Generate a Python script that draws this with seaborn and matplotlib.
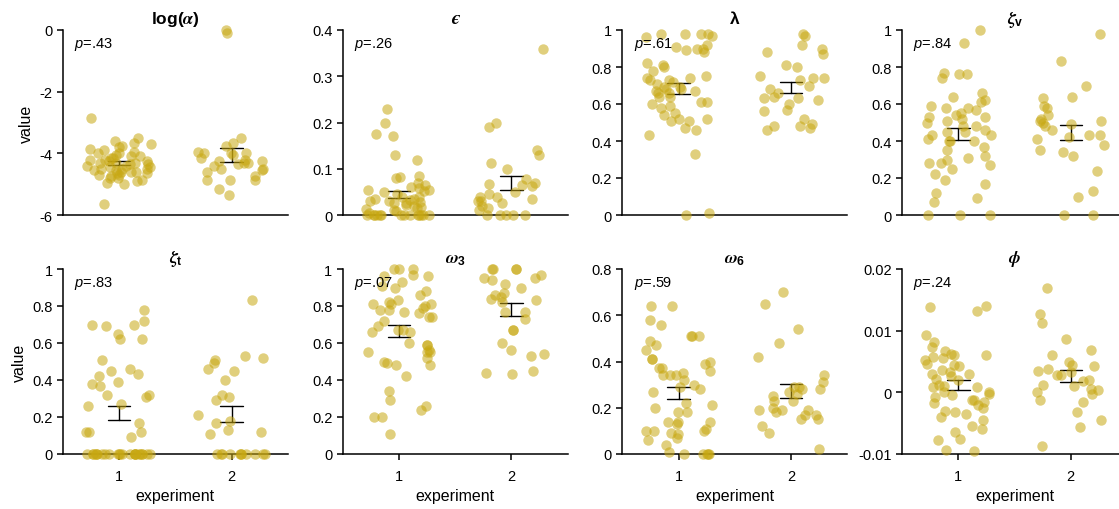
import numpy as np
import pandas as pd
import matplotlib
matplotlib.use("Agg")
import matplotlib.pyplot as plt
from matplotlib.ticker import FuncFormatter
import seaborn as sns

# ---------------------------------------------------------------- data
experiments = ["1", "2"]

# Panel titles; the lunate epsilon is set as plain text in STIX bold italic
titles = [
    r"$\mathbf{log(}\boldsymbol{\alpha}\mathbf{)}$",
    "\u03f5",
    r"$\boldsymbol{\lambda}$",
    r"$\boldsymbol{\zeta}_\mathbf{v}$",
    r"$\boldsymbol{\zeta}_\mathbf{t}$",
    r"$\boldsymbol{\omega}_\mathbf{3}$",
    r"$\boldsymbol{\omega}_\mathbf{6}$",
    r"$\boldsymbol{\phi}$",
]

p_values = [".43", ".26", ".61", ".84", ".83", ".07", ".59", ".24"]

log_alpha_e1 = [-2.85, -3.5, -3.6, -3.65, -3.7, -3.75, -3.8, -3.85, -3.9, -4.0,
                -4.1, -4.1, -4.15, -4.2, -4.2, -4.25, -4.3, -4.3, -4.35, -4.4,
                -4.4, -4.45, -4.5, -4.5, -4.5, -4.55, -4.6, -4.6, -4.6, -4.65,
                -4.7, -4.7, -4.75, -4.8, -4.8, -4.85, -4.9, -4.95, -5.0, -5.65,
                -4.05, -4.25, -4.35, -4.45, -4.55, -3.95, -4.15, -4.65, -4.0, -4.3]
log_alpha_e2 = [0.0, -0.1, -3.5, -3.65, -3.75, -3.95, -4.0, -4.0, -4.05, -4.2,
                -4.25, -4.3, -4.15, -4.25, -4.35, -4.4, -4.5, -4.55, -4.75, -4.85,
                -4.85, -4.85, -5.15, -5.35, -4.3, -4.0, -4.6, -4.5]

eps_e1 = [0.23, 0.20, 0.175, 0.17, 0.13, 0.118, 0.085, 0.082, 0.08, 0.07,
          0.065, 0.06, 0.058, 0.055, 0.055, 0.052, 0.05, 0.045, 0.04, 0.035,
          0.035, 0.032, 0.03, 0.03, 0.028, 0.025, 0.022, 0.02, 0.018, 0.015,
          0.012, 0.01, 0.008, 0.005, 0.04, 0.025, 0, 0, 0, 0,
          0, 0, 0, 0, 0, 0, 0, 0, 0, 0]
eps_e2 = [0.36, 0.20, 0.19, 0.14, 0.13, 0.112, 0.10, 0.078, 0.07, 0.068,
          0.065, 0.063, 0.05, 0.045, 0.04, 0.04, 0.035, 0.03, 0.03, 0.025,
          0.02, 0.015, 0.01, 0, 0, 0, 0, 0]

lam_e1 = [0.98, 0.98, 0.97, 0.98, 0.96, 0.98, 0.92, 0.91, 0.90, 0.90,
          0.89, 0.88, 0.82, 0.81, 0.80, 0.78, 0.75, 0.74, 0.74, 0.73,
          0.73, 0.72, 0.71, 0.69, 0.68, 0.68, 0.67, 0.67, 0.66, 0.66,
          0.64, 0.64, 0.61, 0.61, 0.60, 0.59, 0.58, 0.55, 0.54, 0.52,
          0.52, 0.51, 0.51, 0.47, 0.46, 0.43, 0.33, 0.01, 0.0, 0.69]
lam_e2 = [0.98, 0.97, 0.92, 0.88, 0.87, 0.90, 0.81, 0.80, 0.75, 0.74,
          0.74, 0.73, 0.70, 0.68, 0.66, 0.64, 0.63, 0.63, 0.62, 0.60,
          0.57, 0.56, 0.52, 0.49, 0.48, 0.48, 0.47, 0.46]

zeta_v_e1 = [1.0, 0.93, 0.77, 0.76, 0.76, 0.74, 0.66, 0.64, 0.62, 0.61,
             0.59, 0.58, 0.58, 0.57, 0.55, 0.54, 0.53, 0.53, 0.52, 0.51,
             0.50, 0.48, 0.48, 0.46, 0.45, 0.45, 0.43, 0.43, 0.41, 0.40,
             0.40, 0.40, 0.37, 0.35, 0.32, 0.31, 0.30, 0.28, 0.28, 0.27,
             0.25, 0.22, 0.19, 0.17, 0.12, 0.09, 0.07, 0.0, 0.0, 0.0]
zeta_v_e2 = [0.98, 0.83, 0.70, 0.64, 0.63, 0.59, 0.58, 0.54, 0.52, 0.51,
             0.51, 0.50, 0.49, 0.48, 0.46, 0.43, 0.43, 0.42, 0.41, 0.38,
             0.35, 0.34, 0.32, 0.24, 0.13, 0.10, 0.0, 0.0]

zeta_t_e1 = [0.78, 0.72, 0.70, 0.70, 0.69, 0.65, 0.62, 0.62, 0.51, 0.46,
             0.45, 0.43, 0.42, 0.39, 0.38, 0.37, 0.32, 0.32, 0.31, 0.27,
             0.26, 0.17, 0.12, 0.12, 0.12, 0.09, 0, 0, 0, 0,
             0, 0, 0, 0, 0, 0, 0, 0, 0, 0,
             0, 0, 0, 0, 0, 0, 0, 0, 0, 0]
zeta_t_e2 = [0.83, 0.53, 0.52, 0.51, 0.49, 0.46, 0.45, 0.40, 0.32, 0.31,
             0.29, 0.21, 0.18, 0.17, 0.13, 0.12, 0.11, 0, 0, 0,
             0, 0, 0, 0, 0, 0, 0, 0]

omega3_e1 = [1.0, 1.0, 1.0, 0.97, 0.96, 0.96, 0.93, 0.91, 0.90, 0.88,
             0.86, 0.83, 0.82, 0.81, 0.81, 0.81, 0.80, 0.79, 0.78, 0.78,
             0.77, 0.76, 0.74, 0.74, 0.72, 0.69, 0.67, 0.67, 0.66, 0.66,
             0.60, 0.59, 0.59, 0.56, 0.55, 0.55, 0.55, 0.52, 0.50, 0.49,
             0.48, 0.48, 0.42, 0.34, 0.29, 0.26, 0.24, 0.20, 0.20, 0.11]
omega3_e2 = [1.0, 1.0, 1.0, 1.0, 0.97, 0.95, 0.95, 0.94, 0.92, 0.90,
             0.87, 0.86, 0.85, 0.84, 0.83, 0.77, 0.77, 0.73, 0.67, 0.67,
             0.60, 0.56, 0.54, 0.53, 0.45, 0.44, 0.43, 0.82]

omega6_e1 = [0.64, 0.64, 0.58, 0.56, 0.51, 0.51, 0.51, 0.49, 0.47, 0.45,
             0.41, 0.41, 0.40, 0.39, 0.37, 0.37, 0.36, 0.35, 0.34, 0.34,
             0.34, 0.32, 0.30, 0.29, 0.28, 0.27, 0.22, 0.21, 0.20, 0.18,
             0.18, 0.14, 0.14, 0.14, 0.13, 0.11, 0.10, 0.10, 0.10, 0.09,
             0.085, 0.07, 0.06, 0.04, 0.01, 0.0, 0.0, 0.0, 0.0, 0.0]
omega6_e2 = [0.70, 0.65, 0.54, 0.48, 0.42, 0.34, 0.31, 0.29, 0.29, 0.28,
             0.28, 0.27, 0.26, 0.25, 0.23, 0.23, 0.20, 0.19, 0.19, 0.19,
             0.18, 0.17, 0.17, 0.15, 0.15, 0.12, 0.09, 0.02]

phi_e1 = [0.014, 0.0138, 0.0132, 0.0093, 0.0082, 0.0074, 0.0067, 0.0062, 0.006, 0.006,
          0.0057, 0.0055, 0.0053, 0.0046, 0.0045, 0.0042, 0.0036, 0.0033, 0.003, 0.003,
          0.0027, 0.0022, 0.002, 0.0012, 0.001, 0.0009, 0.0008, 0.0, -0.0003, -0.0005,
          -0.0008, -0.0012, -0.0013, -0.0015, -0.0018, -0.002, -0.0025, -0.003, -0.0032, -0.0035,
          -0.004, -0.0045, -0.0055, -0.006, -0.0065, -0.0075, -0.0077, -0.0093, -0.0095, 0.0]
phi_e2 = [0.017, 0.0127, 0.0112, 0.0087, 0.0068, 0.006, 0.005, 0.0045, 0.0042, 0.0038,
          0.0035, 0.0033, 0.0028, 0.0028, 0.002, 0.0018, 0.0012, 0.001, 0.0005, 0.0004,
          0.0, -0.0003, -0.0012, -0.0015, -0.0032, -0.0045, -0.0057, -0.0087]

unit_ticks = [0, 0.2, 0.4, 0.6, 0.8, 1]
y_ticks = [
    [-6, -4, -2, 0],
    [0, 0.1, 0.2, 0.3, 0.4],
    unit_ticks,
    unit_ticks,
    unit_ticks,
    unit_ticks,
    [0, 0.2, 0.4, 0.6, 0.8],
    [-0.01, 0, 0.01, 0.02],
]

series = [
    (log_alpha_e1, log_alpha_e2),
    (eps_e1, eps_e2),
    (lam_e1, lam_e2),
    (zeta_v_e1, zeta_v_e2),
    (zeta_t_e1, zeta_t_e2),
    (omega3_e1, omega3_e2),
    (omega6_e1, omega6_e2),
    (phi_e1, phi_e2),
]

# ---------------------------------------------------------------- style
sns.set_style("ticks")
plt.rcParams.update({
    "font.family": ["Liberation Sans", "DejaVu Sans"],
    "axes.unicode_minus": False,
    "mathtext.fontset": "custom",
    "mathtext.rm": "Liberation Sans",
    "mathtext.it": "Liberation Sans:italic",
    "mathtext.bf": "Liberation Sans:bold",
    "mathtext.bfit": "STIXGeneral:italic:bold",
    "text.color": "black",
    "axes.labelcolor": "black",
    "axes.edgecolor": "black",
    "xtick.color": "black",
    "ytick.color": "black",
    "axes.linewidth": 1.1,
    "xtick.major.width": 1.1,
    "ytick.major.width": 1.1,
    "xtick.major.size": 4.5,
    "ytick.major.size": 4,
    "xtick.major.pad": 6,
    "xtick.labelsize": 10.5,
    "ytick.labelsize": 10.5,
    "axes.labelsize": 11.5,
})

gold = "#c8a812"

fig, axes = plt.subplots(2, 4, figsize=(11.19, 5.10), dpi=100)
fig.subplots_adjust(left=63 / 1119, right=1127 / 1119,
                    bottom=1 - 455 / 510, top=1 - 31 / 510,
                    wspace=55 / 225, hspace=54 / 185)

np.random.seed(7)
fmt = FuncFormatter(lambda v, _: f"{v:g}")

for i, ax in enumerate(axes.flat):
    e1, e2 = series[i]
    df = pd.DataFrame({
        "experiment": [experiments[0]] * len(e1) + [experiments[1]] * len(e2),
        "value": list(e1) + list(e2),
    })
    sns.stripplot(data=df, x="experiment", y="value", order=experiments,
                  color=gold, alpha=0.55, size=7.5, jitter=0.3, linewidth=0,
                  clip_on=False, ax=ax)
    sns.pointplot(data=df, x="experiment", y="value", order=experiments,
                  errorbar="se", capsize=0.2, color="black", linestyle="none",
                  marker="", err_kws={"linewidth": 1.0}, ax=ax)

    ticks = y_ticks[i]
    ax.set_ylim(ticks[0], ticks[-1])
    ax.set_yticks(ticks)
    ax.yaxis.set_major_formatter(fmt)
    ax.set_xlim(-0.5, 1.5)
    sns.despine(ax=ax)

    if titles[i].startswith("$"):
        ax.set_title(titles[i], fontsize=12.5, pad=5)
    else:
        ax.set_title(titles[i], fontsize=13.5, pad=5, family="STIXGeneral",
                     fontweight="bold", fontstyle="italic")
    ax.text(0.05, 0.975, r"$p$=" + p_values[i], transform=ax.transAxes,
            ha="left", va="top", fontsize=10.5)

    row, col = divmod(i, 4)
    ax.set_ylabel("value" if col == 0 else "")
    if row == 0:
        ax.set_xlabel("")
        ax.tick_params(axis="x", length=0, labelbottom=False)
    else:
        ax.set_xlabel("experiment", labelpad=4)

fig.savefig("out.png", dpi=100)
